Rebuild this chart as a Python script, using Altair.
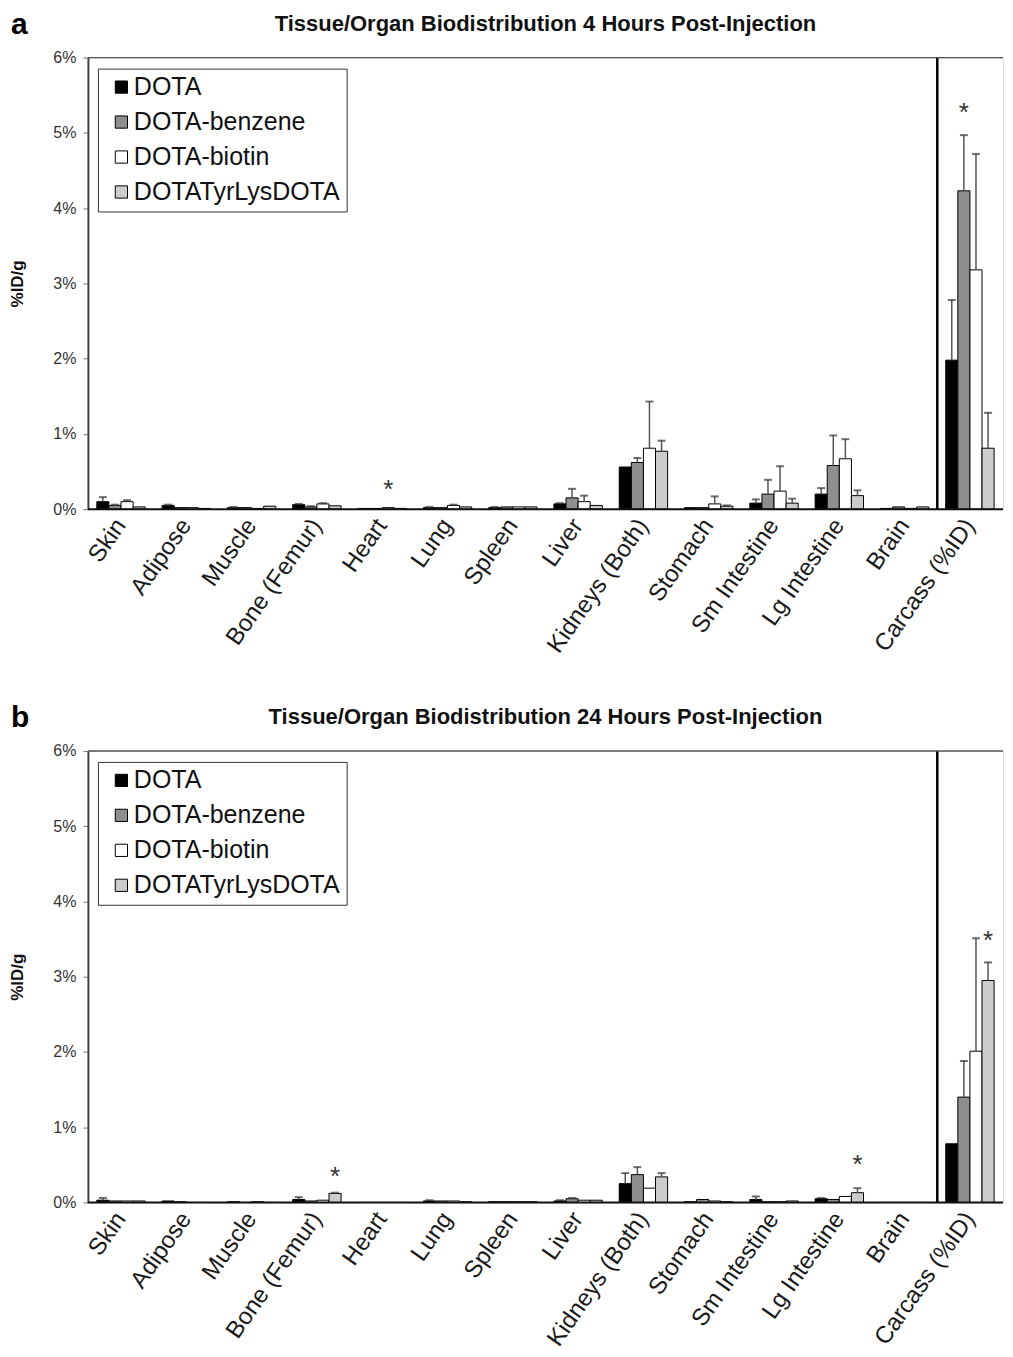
import altair as alt
import pandas as pd

organs = ["Skin", "Adipose", "Muscle", "Bone (Femur)", "Heart", "Lung", "Spleen",
          "Liver", "Kidneys (Both)", "Stomach", "Sm Intestine", "Lg Intestine",
          "Brain", "Carcass (%ID)"]
compounds = ["DOTA", "DOTA-benzene", "DOTA-biotin", "DOTATyrLysDOTA"]
colors = ["#000000", "#8e8e8e", "#ffffff", "#cccccc"]

# ---- Panel a: 4 h post-injection (%ID/g, carcass %ID) ----
a_dota = [0.10, 0.05, 0.02, 0.06, 0.01, 0.02, 0.02, 0.07, 0.56, 0.02, 0.08, 0.20, 0.01, 1.98]
a_benz = [0.05, 0.02, 0.02, 0.03, 0.01, 0.02, 0.03, 0.15, 0.62, 0.02, 0.20, 0.58, 0.03, 4.23]
a_biot = [0.10, 0.02, 0.01, 0.07, 0.02, 0.05, 0.03, 0.10, 0.81, 0.07, 0.24, 0.67, 0.01, 3.18]
a_tyrl = [0.03, 0.01, 0.04, 0.045, 0.01, 0.03, 0.03, 0.05, 0.77, 0.04, 0.08, 0.18, 0.03, 0.81]
a_dota_sd = [0.06, 0.01, 0.01, 0.01, 0.0, 0.01, 0.01, 0.01, 0.0, 0.0, 0.05, 0.08, 0.0, 0.80]
a_benz_sd = [0.01, 0.0, 0.0, 0.01, 0.0, 0.0, 0.0, 0.12, 0.06, 0.0, 0.19, 0.40, 0.0, 0.74]
a_biot_sd = [0.02, 0.0, 0.0, 0.01, 0.0, 0.01, 0.0, 0.08, 0.62, 0.10, 0.33, 0.26, 0.0, 1.54]
a_tyrl_sd = [0.0, 0.0, 0.0, 0.0, 0.0, 0.0, 0.0, 0.0, 0.14, 0.01, 0.06, 0.07, 0.0, 0.47]
a_star_organ = ["Heart", "Carcass (%ID)"]
a_star_comp = ["DOTA-biotin", "DOTA-benzene"]
a_star_y = [0.30, 5.30]
a_title = "Tissue/Organ Biodistribution 4 Hours Post-Injection"

# ---- Panel b: 24 h post-injection ----
b_dota = [0.03, 0.02, 0.01, 0.04, 0.00, 0.02, 0.01, 0.02, 0.25, 0.01, 0.04, 0.05, 0.00, 0.78]
b_benz = [0.02, 0.01, 0.00, 0.02, 0.00, 0.02, 0.01, 0.05, 0.37, 0.04, 0.01, 0.04, 0.00, 1.40]
b_biot = [0.02, 0.00, 0.01, 0.03, 0.00, 0.02, 0.01, 0.03, 0.19, 0.02, 0.01, 0.08, 0.00, 2.01]
b_tyrl = [0.02, 0.00, 0.00, 0.12, 0.00, 0.01, 0.01, 0.03, 0.34, 0.01, 0.02, 0.13, 0.00, 2.95]
b_dota_sd = [0.03, 0.0, 0.0, 0.03, 0.0, 0.01, 0.0, 0.01, 0.14, 0.0, 0.04, 0.01, 0.0, 0.0]
b_benz_sd = [0.0, 0.0, 0.0, 0.0, 0.0, 0.0, 0.0, 0.01, 0.10, 0.0, 0.0, 0.0, 0.0, 0.48]
b_biot_sd = [0.0, 0.0, 0.0, 0.0, 0.0, 0.0, 0.0, 0.0, 0.0, 0.0, 0.0, 0.0, 0.0, 1.50]
b_tyrl_sd = [0.0, 0.0, 0.0, 0.01, 0.0, 0.0, 0.0, 0.0, 0.05, 0.0, 0.0, 0.06, 0.0, 0.24]
b_star_organ = ["Bone (Femur)", "Lg Intestine", "Carcass (%ID)"]
b_star_comp = ["DOTATyrLysDOTA", "DOTATyrLysDOTA", "DOTATyrLysDOTA"]
b_star_y = [0.38, 0.54, 3.52]
b_title = "Tissue/Organ Biodistribution 24 Hours Post-Injection"

FONT = "Liberation Sans"
W = 916
H = 452
P_IN = 0.259
P_OUT = 0.136
STEP = W / (len(organs) - P_IN + 2 * P_OUT)


def panel(means, sds, star_o, star_c, star_y, title, letter):
    rows = []
    for ci, c in enumerate(compounds):
        for oi, o in enumerate(organs):
            rows.append(dict(organ=o, compound=c, value=means[ci][oi],
                             sd=sds[ci][oi], upper=means[ci][oi] + sds[ci][oi]))
    df = pd.DataFrame(rows)
    base = alt.Chart(df)

    xscale = alt.Scale(domain=organs, paddingInner=P_IN, paddingOuter=P_OUT)
    x_axis = alt.X("organ:N", sort=organs, scale=xscale, title=None,
                   axis=alt.Axis(labelAngle=-55, labelFontSize=24, labelAlign="right",
                                 labelBaseline="middle", domain=False, ticks=False,
                                 labelPadding=12, labelColor="#1a1a1a", labelFont=FONT,
                                 labelOverlap=False))
    x_plain = alt.X("organ:N", sort=organs, scale=xscale, title=None)
    xoff = alt.XOffset("compound:N", sort=compounds,
                       scale=alt.Scale(domain=compounds, paddingInner=0, paddingOuter=0))
    y_axis = alt.Y("value:Q", title="%ID/g",
                   scale=alt.Scale(domain=[0, 6], nice=False, zero=True),
                   axis=alt.Axis(values=[0, 1, 2, 3, 4, 5, 6], labelExpr="datum.value + '%'",
                                 grid=False, domainColor="#444", domainWidth=2,
                                 tickSize=5, tickColor="#777", labelFontSize=16,
                                 labelColor="#333", labelPadding=7, labelFont=FONT,
                                 titleFontSize=17, titleFontWeight="bold", titleFont=FONT,
                                 titleColor="#111", titlePadding=26))

    bars = base.mark_bar(stroke="#000", strokeWidth=1).encode(
        x=x_axis, xOffset=xoff, y=y_axis,
        color=alt.Color("compound:N", sort=compounds,
                        scale=alt.Scale(domain=compounds, range=colors),
                        legend=alt.Legend(title=None, orient="none", legendX=10, legendY=11,
                                          direction="vertical", symbolType="square",
                                          symbolSize=150, symbolStrokeColor="#000",
                                          symbolStrokeWidth=1, symbolOffset=5,
                                          labelFontSize=25, labelFont=FONT,
                                          labelColor="#111", labelOffset=0,
                                          rowPadding=9, padding=6,
                                          strokeColor="#333", fillColor="#ffffff",
                                          labelLimit=400)),
    )
    errs = base.transform_filter("datum.sd > 0")
    rule = errs.mark_rule(color="#555", strokeWidth=1.5).encode(
        x=x_plain, xOffset=xoff,
        y=alt.Y("value:Q", title="%ID/g"), y2="upper:Q")
    caps = errs.mark_tick(orient="horizontal", color="#333", thickness=2, size=8).encode(
        x=x_plain, xOffset=xoff, y=alt.Y("upper:Q", title="%ID/g"))

    sdf = pd.DataFrame(dict(organ=star_o, compound=star_c, y=star_y))
    stars = alt.Chart(sdf).mark_text(text="*", fontSize=26, color="#333", font=FONT,
                                     baseline="middle", dy=3).encode(
        x=x_plain, xOffset=xoff, y=alt.Y("y:Q", title="%ID/g"))

    one = pd.DataFrame(dict(organ=["Carcass (%ID)"]))
    divider = alt.Chart(one).mark_rule(color="#000", strokeWidth=2.5,
                                       xOffset=-P_IN * STEP / 2).encode(
        x=alt.X("organ:N", sort=organs, scale=xscale, bandPosition=0, title=None),
        y=alt.value(0), y2=alt.value(H))
    single = pd.DataFrame(dict(k=[0]))
    frame = alt.Chart(single).mark_rule(color="#555", strokeWidth=1.5).encode(
        x=alt.value(0), x2=alt.value(W), y=alt.value(0))
    baseline = alt.Chart(single).mark_rule(color="#111", strokeWidth=2).encode(
        x=alt.value(0), x2=alt.value(W), y=alt.value(H))
    lab = alt.Chart(single).mark_text(
        text=letter, fontSize=30, fontWeight="bold", font=FONT, align="left",
        baseline="alphabetic", color="#000").encode(x=alt.value(-77), y=alt.value(-24))
    ttl = alt.Chart(single).mark_text(
        text=title, fontSize=22, fontWeight="bold", font=FONT, align="center",
        baseline="alphabetic", color="#111").encode(x=alt.value(W / 2), y=alt.value(-27))

    return alt.layer(bars, rule, caps, stars, divider, frame, baseline, lab, ttl).properties(
        width=W, height=H)


pa = panel([a_dota, a_benz, a_biot, a_tyrl], [a_dota_sd, a_benz_sd, a_biot_sd, a_tyrl_sd],
           a_star_organ, a_star_comp, a_star_y, a_title, "a")
pb = panel([b_dota, b_benz, b_biot, b_tyrl], [b_dota_sd, b_benz_sd, b_biot_sd, b_tyrl_sd],
           b_star_organ, b_star_comp, b_star_y, b_title, "b")

chart = alt.vconcat(pa, pb, spacing=44).resolve_scale(color="independent").resolve_legend(
    color="independent").configure_view(stroke=None).configure(padding=0)

chart.save("out.html", embed_options={"renderer": "svg", "actions": False})
